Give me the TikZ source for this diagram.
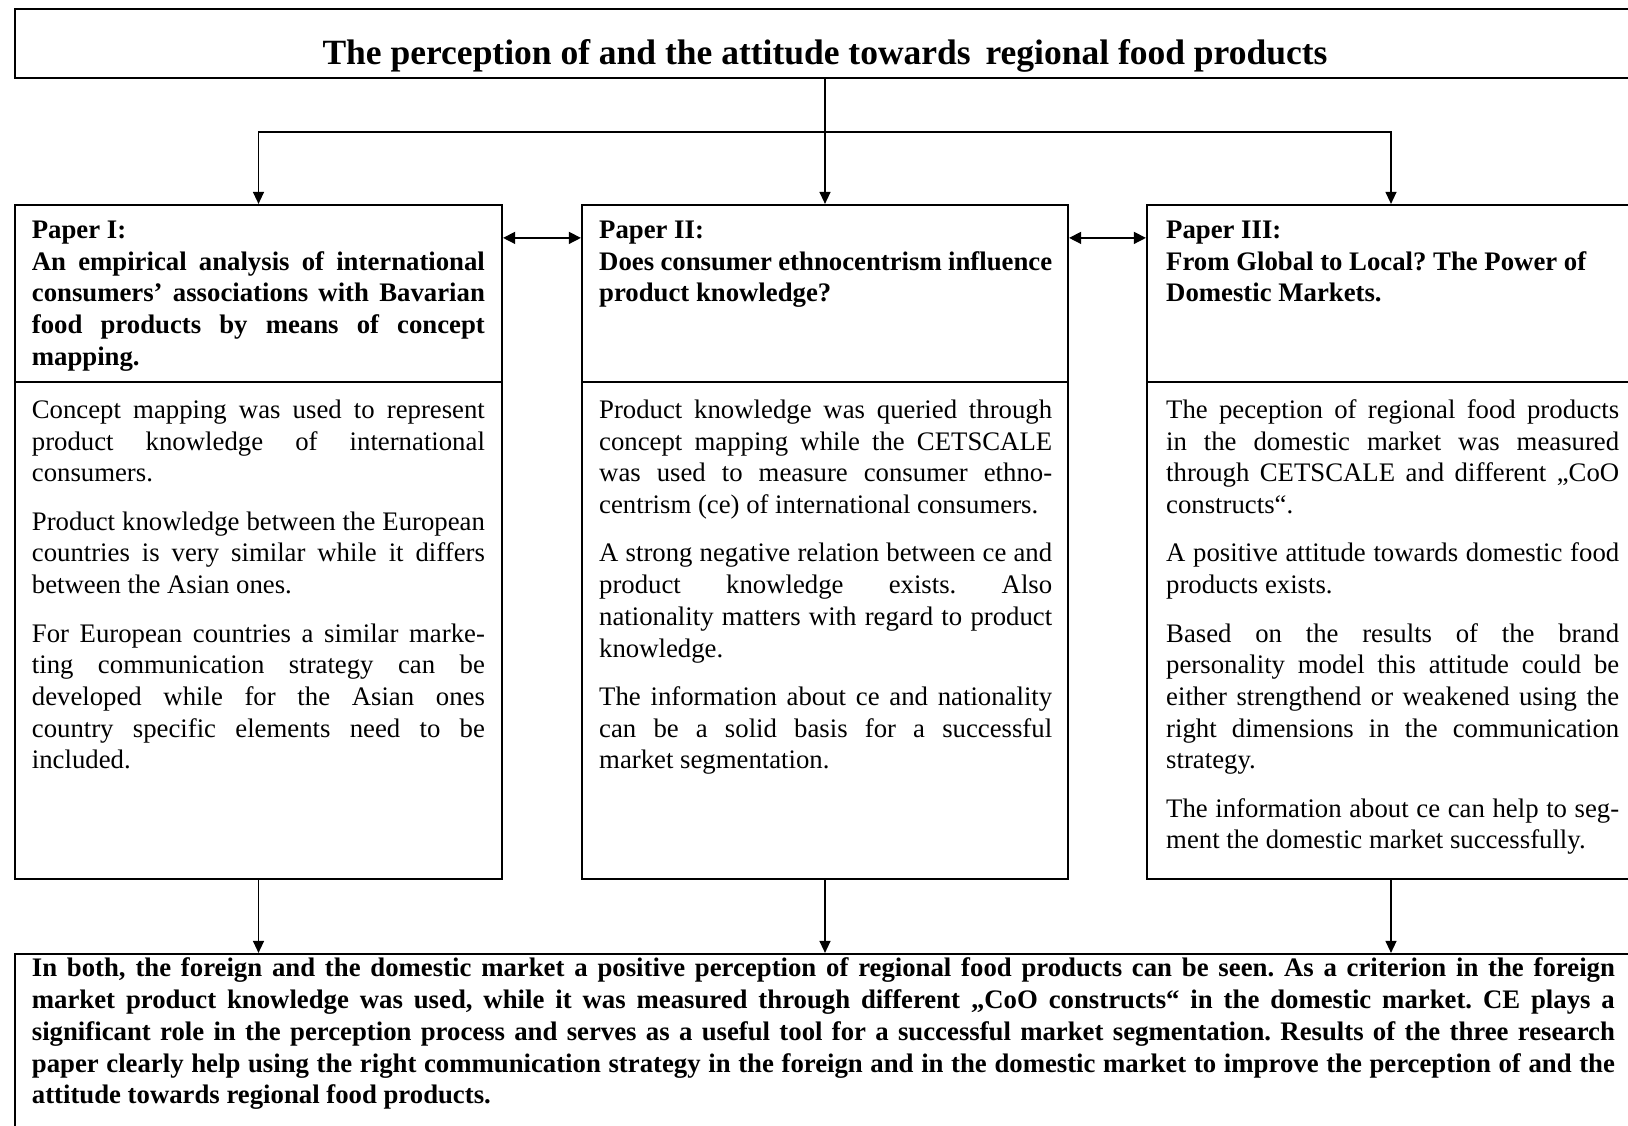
\documentclass[tikz,border=0pt]{standalone}
\usepackage{fontspec}
\setmainfont{Liberation Serif}
\usetikzlibrary{arrows.meta}
\frenchspacing
\begin{document}
\begin{tikzpicture}[x=1pt,y=-1pt,
  box/.style={draw, line width=2.2pt, inner sep=0pt},
  conn/.style={line width=1.3pt},
  arr/.style={conn, -{Triangle[length=12pt,width=11pt]}},
  darr/.style={conn, {Triangle[length=12pt,width=12pt]}-{Triangle[length=12pt,width=12pt]}},
  headtxt/.style={anchor=north west, inner sep=0pt, text width=453pt, align=justify,
    font=\fontsize{26.75pt}{31.7pt}\selectfont\bfseries\frenchspacing},
  bodytxt/.style={anchor=north west, inner sep=0pt, text width=453pt, align=justify,
    font=\fontsize{26.75pt}{31.7pt}\selectfont\frenchspacing},
  bottxt/.style={anchor=north west, inner sep=0pt, text width=1583pt, align=justify,
    font=\fontsize{26.75pt}{31.7pt}\selectfont\bfseries\frenchspacing},
]
\useasboundingbox (0,0) rectangle (1628,1125);
\clip (0,0) rectangle (1628,1125);
\fill[white] (0,0) rectangle (1628,1125);

% title
\node[box, minimum width=1620pt, minimum height=69pt, text height=41pt, text depth=0pt,
  font=\fontsize{35.5pt}{40pt}\selectfont\bfseries] (title) at (825,43.5)
  {The perception of and the attitude towards\ \,regional food products};

% paper boxes
\node[box, minimum width=487pt, minimum height=177pt] (p1h) at (258.5,293.5) {};
\node[box, minimum width=487pt, minimum height=497pt] (p1b) at (258.5,630.5) {};
\node[box, minimum width=486pt, minimum height=177pt] (p2h) at (825,293.5) {};
\node[box, minimum width=486pt, minimum height=497pt] (p2b) at (825,630.5) {};
\node[box, minimum width=488pt, minimum height=177pt] (p3h) at (1391,293.5) {};
\node[box, minimum width=488pt, minimum height=497pt] (p3b) at (1391,630.5) {};

% conclusion box
\node[box, minimum width=1620pt, minimum height=186pt] (concl) at (825,1047) {};

% headings
\node[headtxt] (p1ht) at (31.7,216.1) {\setlength{\parskip}{0pt}\strut Paper I:\par
An empirical analysis of international\linebreak
consumers’ associations with Bavarian\linebreak
food products by means of concept\linebreak
mapping.};
\node[headtxt] (p2ht) at (599,216.1) {\setlength{\parskip}{0pt}\strut Paper II:\par
Does consumer ethnocentrism influence\linebreak
product knowledge?};
\node[headtxt] (p3ht) at (1166,216.1) {\setlength{\parskip}{0pt}\strut Paper III:\par
From Global to Local? The Power of\newline
Domestic Markets.};

% bodies
\node[bodytxt] (p1bt) at (31.7,396.1) {\setlength{\parskip}{16.7pt}\strut Concept mapping was used to represent\linebreak
product knowledge of international\linebreak
consumers.\par
Product knowledge between the European\linebreak
countries is very similar while it differs\linebreak
between the Asian ones.\par
For European countries a similar marke-\linebreak
ting communication strategy can be\linebreak
developed while for the Asian ones\linebreak
country specific elements need to be\linebreak
included.};
\node[bodytxt] (p2bt) at (599,396.1) {\setlength{\parskip}{16.7pt}\strut Product knowledge was queried through\linebreak
concept mapping while the CETSCALE\linebreak
was used to measure consumer ethno-\linebreak
centrism (ce) of international consumers.\par
A strong negative relation between ce and\linebreak
product knowledge exists. Also\linebreak
nationality matters with regard to product\linebreak
knowledge.\par
The information about ce and nationality\linebreak
can be a solid basis for a successful\linebreak
market segmentation.};
\node[bodytxt] (p3bt) at (1166,396.1) {\setlength{\parskip}{16.7pt}\strut The peception of regional food products\linebreak
in the domestic market was measured\linebreak
through CETSCALE and different „CoO\linebreak
constructs“.\par
A positive attitude towards domestic food\linebreak
products exists.\par
Based on the results of the brand\linebreak
personality model this attitude could be\linebreak
either strengthend or weakened using the\linebreak
right dimensions in the communication\linebreak
strategy.\par
The information about ce can help to seg-\linebreak
ment the domestic market successfully.};

% conclusion text
\node[bottxt] (conct) at (31.7,954.5) {\strut In both, the foreign and the domestic market a positive perception of regional food products can be seen. As a criterion in the foreign\linebreak
market product knowledge was used, while it was measured through different „CoO constructs“ in the domestic market. CE plays a\linebreak
significant role in the perception process and serves as a useful tool for a successful market segmentation. Results of the three research\linebreak
paper clearly help using the right communication strategy in the foreign and in the domestic market to improve the perception of and the\linebreak
attitude towards regional food products.};

% connectors
\coordinate (split) at (825,132);
\draw[arr] (title.south) -- (p2h.north);
\draw[arr] (split) -| (p1h.north);
\draw[arr] (split) -| (p3h.north);
\draw[darr] ([yshift=-34pt]p1h.north east) -- ([yshift=-34pt]p2h.north west);
\draw[darr] ([yshift=-34pt]p2h.north east) -- ([yshift=-34pt]p3h.north west);
\draw[arr] (p1b.south) -- (p1b.south |- concl.north);
\draw[arr] (p2b.south) -- (p2b.south |- concl.north);
\draw[arr] (p3b.south) -- (p3b.south |- concl.north);
\end{tikzpicture}
\end{document}
